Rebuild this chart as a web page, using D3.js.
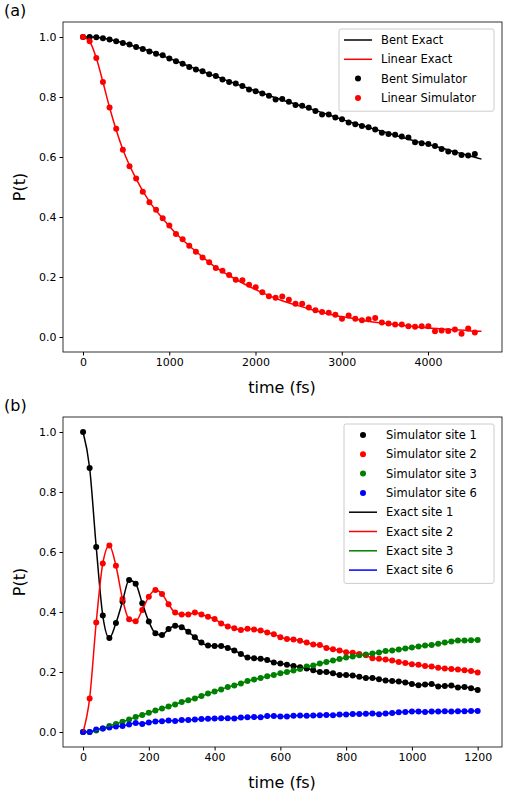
<!DOCTYPE html>
<html>
<head>
<meta charset="utf-8">
<script src="https://cdn.jsdelivr.net/npm/d3@7"></script>
<style>
body { margin: 0; background: #fff; }
text { font-family: "DejaVu Sans", sans-serif; }
</style>
</head>
<body>
<script>
// panel (a): simulator sampled every 77 fs, exact curve at the times below
const bentSim = [1.0,1.0,0.999,0.996,0.992,0.986,0.98,0.975,0.967,0.96,0.952,0.944,0.939,0.928,0.919,0.911,0.9,0.892,0.886,0.876,
  0.87,0.858,0.85,0.845,0.837,0.825,0.819,0.812,0.804,0.792,0.793,0.784,0.773,0.771,0.764,0.753,0.742,0.742,0.732,0.726,
  0.715,0.709,0.703,0.699,0.692,0.681,0.677,0.674,0.668,0.665,0.649,0.646,0.643,0.637,0.627,0.618,0.615,0.607,0.605,0.61];
const linSim = [1.0,0.986,0.93,0.85,0.765,0.694,0.624,0.569,0.528,0.484,0.449,0.424,0.396,0.372,0.343,0.326,0.304,0.284,0.265,0.249,
  0.23,0.221,0.207,0.191,0.189,0.174,0.166,0.149,0.136,0.131,0.135,0.124,0.111,0.111,0.098,0.089,0.083,0.081,0.074,0.061,
  0.072,0.061,0.056,0.059,0.063,0.048,0.045,0.042,0.042,0.036,0.034,0.036,0.036,0.019,0.022,0.02,0.025,0.011,0.028,0.015];
const exactTimesA = [0,77,154,231,308,462,616,770,924,1078,1232,1386,1540,1694,1848,2002,2156,2310,2464,2618,2772,2926,3080,3234,3388,3542,3696,3850,4004,4158,4312,4466,4620];
const bentExact = [1.0,1.0,0.999,0.996,0.992,0.981,0.967,0.953,0.937,0.92,0.902,0.885,0.869,0.852,0.836,0.82,0.805,0.79,0.776,0.762,0.748,0.733,0.718,0.705,0.692,0.679,0.666,0.653,0.642,0.63,0.617,0.605,0.593];
const linExact = [1.0,0.985,0.93,0.85,0.765,0.625,0.527,0.451,0.395,0.345,0.304,0.267,0.232,0.205,0.18,0.158,0.138,0.121,0.107,0.094,0.082,0.072,0.064,0.056,0.049,0.044,0.039,0.034,0.03,0.027,0.024,0.021,0.019];

// panel (b): every 20 fs, 0..1200
const site1 = [1.0,0.88,0.617,0.388,0.313,0.363,0.435,0.507,0.494,0.429,0.368,0.329,0.323,0.343,0.354,0.349,0.334,0.316,0.298,0.288,0.287,0.287,
  0.28,0.272,0.26,0.248,0.246,0.244,0.24,0.232,0.228,0.224,0.22,0.216,0.212,0.206,0.2,0.2,0.196,0.19,0.19,0.188,
  0.184,0.18,0.18,0.176,0.172,0.17,0.168,0.165,0.16,0.156,0.158,0.16,0.152,0.153,0.155,0.148,0.15,0.146,0.14];
const site2 = [0,0.112,0.365,0.562,0.622,0.554,0.443,0.376,0.369,0.407,0.451,0.473,0.46,0.426,0.398,0.392,0.392,0.398,0.392,0.384,0.377,0.362,
  0.352,0.346,0.34,0.344,0.342,0.338,0.332,0.326,0.316,0.31,0.308,0.304,0.298,0.292,0.29,0.28,0.276,0.272,0.266,0.264,
  0.26,0.256,0.246,0.244,0.242,0.238,0.233,0.23,0.226,0.224,0.22,0.218,0.214,0.212,0.21,0.208,0.206,0.203,0.198];
const site3 = [0,0,0.005,0.012,0.02,0.027,0.034,0.042,0.05,0.057,0.064,0.072,0.078,0.085,0.092,0.1,0.106,0.112,0.12,0.128,0.135,
  0.142,0.15,0.155,0.162,0.17,0.175,0.18,0.186,0.19,0.196,0.2,0.205,0.21,0.218,0.222,0.228,0.233,0.238,0.243,0.248,
  0.252,0.256,0.258,0.262,0.265,0.27,0.272,0.275,0.278,0.282,0.285,0.288,0.29,0.294,0.298,0.302,0.305,0.305,0.306,0.307];
const site6 = [0,0,0.008,0.012,0.015,0.018,0.02,0.025,0.03,0.027,0.032,0.035,0.036,0.038,0.037,0.04,0.04,0.042,0.043,0.044,0.045,
  0.046,0.046,0.045,0.048,0.049,0.05,0.049,0.053,0.053,0.052,0.052,0.054,0.055,0.054,0.055,0.056,0.057,0.056,0.058,0.058,
  0.06,0.06,0.061,0.062,0.059,0.062,0.063,0.066,0.067,0.068,0.068,0.067,0.068,0.068,0.069,0.068,0.069,0.069,0.07,0.07];

const xTicksA = [0,1000,2000,3000,4000];
const xTicksB = [0,200,400,600,800,1000,1200];
const yTicks = [0,0.2,0.4,0.6,0.8,1.0];

const svg = d3.select('body').append('svg').attr('width', 508).attr('height', 798);

function panel(top, xDomain, xTicks, label) {
    const x = d3.scaleLinear().domain(xDomain).range([63, 502]);
    const y = d3.scaleLinear().domain([-0.05, 1.05]).range([top + 330, top]);
    const g = svg.append('g');
    g.append('g').attr('transform', `translate(0,${top + 330})`)
        .call(d3.axisBottom(x).tickValues(xTicks).tickSize(3.5).tickPadding(3).tickFormat(d3.format('d')));
    g.append('g').attr('transform', 'translate(63,0)')
        .call(d3.axisLeft(y).tickValues(yTicks).tickSize(3.5).tickPadding(3).tickFormat(d3.format('.1f')));
    g.selectAll('.domain').remove();
    g.selectAll('.tick text').attr('font-size', 11).attr('fill', '#000');
    g.selectAll('.tick line').attr('stroke', '#000');
    g.append('rect').attr('x', 63).attr('y', top).attr('width', 439).attr('height', 330)
        .attr('fill', 'none').attr('stroke', '#000').attr('stroke-width', 0.8);
    svg.append('text').attr('x', 4).attr('y', top - 6).attr('font-size', 16).text(label);
    svg.append('text').attr('transform', `translate(25,${top + 165}) rotate(-90)`)
        .attr('text-anchor', 'middle').attr('font-size', 16).text('P(t)');
    svg.append('text').attr('x', 282).attr('y', top + 371)
        .attr('text-anchor', 'middle').attr('font-size', 16).text('time (fs)');
    return { x, y, g };
}

function drawLine(p, times, vals, color) {
    p.g.append('path').datum(vals)
        .attr('fill', 'none').attr('stroke', color).attr('stroke-width', 1.5)
        .attr('d', d3.line().x((d, i) => p.x(times[i])).y(d => p.y(d)).curve(d3.curveMonotoneX));
}
function drawDots(p, step, vals, color) {
    p.g.append('g').selectAll('circle').data(vals).join('circle')
        .attr('cx', (d, i) => p.x(i * step)).attr('cy', d => p.y(d))
        .attr('r', 3).attr('fill', color);
}
function legend(x, y, w, items) {
    const g = svg.append('g');
    g.append('rect').attr('x', x).attr('y', y).attr('width', w).attr('height', items.length * 19.3 + 5)
        .attr('rx', 2).attr('fill', '#fff').attr('fill-opacity', 0.8).attr('stroke', '#ccc');
    items.forEach((it, i) => {
        const cy = y + 11 + i * 19.3;
        if (it.dot) g.append('circle').attr('cx', x + 19).attr('cy', cy).attr('r', 3).attr('fill', it.color);
        else g.append('line').attr('x1', x + 5).attr('x2', x + 33).attr('y1', cy).attr('y2', cy)
            .attr('stroke', it.color).attr('stroke-width', 1.5);
        g.append('text').attr('x', x + 42).attr('y', cy + 4).attr('font-size', 11.5).text(it.name);
    });
}

const timesB = site1.map((d, i) => i * 20);

const pa = panel(22, [-232, 4858], xTicksA, '(a)');
drawLine(pa, exactTimesA, bentExact, 'black');
drawLine(pa, exactTimesA, linExact, 'red');
drawDots(pa, 77, bentSim, 'black');
drawDots(pa, 77, linSim, 'red');
legend(339, 29, 155, [
    { name: 'Bent Exact', color: 'black' },
    { name: 'Linear Exact', color: 'red' },
    { name: 'Bent Simulator', color: 'black', dot: true },
    { name: 'Linear Simulator', color: 'red', dot: true }
]);

const pb = panel(417, [-61, 1274], xTicksB, '(b)');
const colorsB = ['black', 'red', 'green', 'blue'];
const sitesB = [site1, site2, site3, site6];
sitesB.forEach((s, k) => drawDots(pb, 20, s, colorsB[k]));
sitesB.forEach((s, k) => drawLine(pb, timesB, s, colorsB[k]));
legend(344, 424, 150, [
    { name: 'Simulator site 1', color: 'black', dot: true },
    { name: 'Simulator site 2', color: 'red', dot: true },
    { name: 'Simulator site 3', color: 'green', dot: true },
    { name: 'Simulator site 6', color: 'blue', dot: true },
    { name: 'Exact site 1', color: 'black' },
    { name: 'Exact site 2', color: 'red' },
    { name: 'Exact site 3', color: 'green' },
    { name: 'Exact site 6', color: 'blue' }
]);
</script>
</body>
</html>
